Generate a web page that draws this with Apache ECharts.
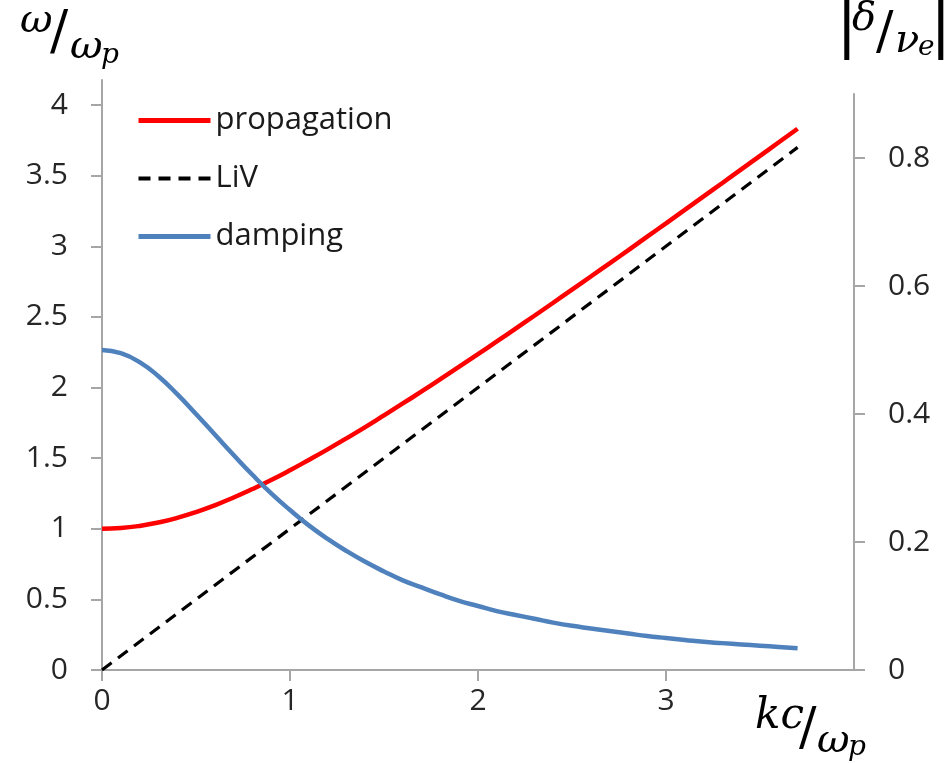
<!DOCTYPE html>
<html>
<head>
<meta charset="utf-8">
<script src="https://cdn.jsdelivr.net/npm/echarts@6/dist/echarts.min.js"></script>
<style>
  html, body { margin: 0; padding: 0; background: #fff; }
  #chart { width: 951px; height: 763px; }
</style>
</head>
<body>
<div id="chart"></div>
<script>
// kc/ωp values where the curves were read
const kValues = [0, 0.1, 0.2, 0.3, 0.4, 0.5, 0.6, 0.7, 0.8, 0.9, 1.0, 1.1, 1.2, 1.3, 1.4, 1.5, 1.6, 1.7, 1.8, 1.9,
  2.0, 2.1, 2.2, 2.3, 2.4, 2.5, 2.6, 2.7, 2.8, 2.9, 3.0, 3.1, 3.2, 3.3, 3.4, 3.5, 3.6, 3.7]
// ω/ωp (left axis)
const propagation = [1.00, 1.005, 1.02, 1.044, 1.077, 1.118, 1.166, 1.221, 1.281, 1.345, 1.414, 1.487, 1.562, 1.64,
  1.72, 1.803, 1.887, 1.972, 2.059, 2.147, 2.236, 2.326, 2.417, 2.508, 2.60, 2.693, 2.786, 2.879, 2.973, 3.068,
  3.162, 3.257, 3.353, 3.448, 3.544, 3.64, 3.736, 3.832]
const livK = [0, 3.7]
const livValues = [0, 3.7]
// |δ/νe| (right axis)
const damping = [0.50, 0.495, 0.481, 0.459, 0.431, 0.40, 0.368, 0.336, 0.305, 0.276, 0.25, 0.226, 0.205, 0.186,
  0.169, 0.154, 0.14, 0.129, 0.118, 0.108, 0.10, 0.092, 0.086, 0.08, 0.074, 0.069, 0.065, 0.061, 0.057, 0.053,
  0.05, 0.047, 0.044, 0.042, 0.04, 0.038, 0.036, 0.034]

const zip = (xs, ys) => xs.map((x, i) => [x, ys[i]])

const axisGray = '#a6a6a6'
const labelColor = '#262626'
const labelFont = 'Open Sans'
const mathFont = 'DejaVu Serif'

const chart = echarts.init(document.getElementById('chart'))

const mathText = (text, left, top, size, italic) => ({
  type: 'text',
  left: left,
  top: top,
  style: {
    text: text,
    fontFamily: mathFont,
    fontSize: size,
    fontStyle: italic ? 'italic' : 'normal',
    fill: '#000'
  }
})

const tickStyle = { show: true, length: 11, lineStyle: { color: axisGray, width: 2 } }
const lineOnly = { show: true, onZero: false, lineStyle: { color: axisGray, width: 2 } }
const hiddenX = idx => ({ type: 'value', gridIndex: idx, min: 0, max: 4, show: false })
const plotGrid = top => ({ left: 102, right: 97, top: top, bottom: 93, outerBoundsMode: 'none' })

const option = {
  animation: false,
  backgroundColor: '#fff',
  grid: [
    plotGrid(105), // left axis 0..4
    plotGrid(80),  // left axis line above 4
    plotGrid(158), // right axis 0..0.8
    plotGrid(94)   // right axis line above 0.8
  ],
  legend: {
    orient: 'vertical',
    left: 131,
    top: 100,
    itemWidth: 72,
    itemHeight: 4,
    itemGap: 27,
    itemStyle: { opacity: 0 },
    textStyle: { fontFamily: labelFont, fontSize: 31, color: '#1a1a1a' },
    data: [
      { name: 'propagation', lineStyle: { width: 5 } },
      { name: 'LiV', lineStyle: { width: 4 } },
      { name: 'damping', lineStyle: { width: 5 } }
    ]
  },
  xAxis: [
    {
      type: 'value',
      gridIndex: 0,
      min: 0,
      max: 4,
      interval: 1,
      splitLine: { show: false },
      axisLine: lineOnly,
      axisTick: tickStyle,
      axisLabel: { showMaxLabel: false, margin: 16, fontFamily: labelFont, fontSize: 30, color: labelColor }
    },
    hiddenX(1), hiddenX(2), hiddenX(3)
  ],
  yAxis: [
    {
      type: 'value',
      gridIndex: 0,
      position: 'left',
      min: 0,
      max: 4,
      interval: 0.5,
      splitLine: { show: false },
      axisLine: lineOnly,
      axisTick: tickStyle,
      axisLabel: { margin: 34, fontFamily: labelFont, fontSize: 30, color: labelColor }
    },
    {
      type: 'value',
      gridIndex: 1,
      position: 'left',
      min: 0,
      max: 1,
      splitLine: { show: false },
      axisLine: lineOnly,
      axisTick: { show: false },
      axisLabel: { show: false }
    },
    {
      type: 'value',
      gridIndex: 2,
      position: 'right',
      min: 0,
      max: 0.8,
      interval: 0.2,
      splitLine: { show: false },
      axisLine: lineOnly,
      axisTick: tickStyle,
      axisLabel: {
        margin: 34, fontFamily: labelFont, fontSize: 30, color: labelColor,
        formatter: v => (v === 0 ? '0' : v.toFixed(1))
      }
    },
    {
      type: 'value',
      gridIndex: 3,
      position: 'right',
      min: 0,
      max: 1,
      splitLine: { show: false },
      axisLine: lineOnly,
      axisTick: { show: false },
      axisLabel: { show: false }
    }
  ],
  series: [
    {
      name: 'propagation',
      type: 'line',
      xAxisIndex: 0,
      yAxisIndex: 0,
      symbol: 'none',
      smooth: true,
      color: '#ff0000',
      lineStyle: { width: 4.5, color: '#ff0000' },
      data: zip(kValues, propagation)
    },
    {
      name: 'LiV',
      type: 'line',
      xAxisIndex: 0,
      yAxisIndex: 0,
      symbol: 'none',
      color: '#000',
      lineStyle: { width: 3.2, color: '#000', type: [12, 8] },
      data: zip(livK, livValues)
    },
    {
      name: 'damping',
      type: 'line',
      xAxisIndex: 2,
      yAxisIndex: 2,
      symbol: 'none',
      smooth: true,
      color: '#4f81bd',
      lineStyle: { width: 4.5, color: '#4f81bd' },
      data: zip(kValues, damping)
    }
  ],
  graphic: [
    // left axis title: ω/ωp
    mathText('ω', 20, 2, 40, true),
    mathText('/', 50, 8, 54, false),
    mathText('ω', 70, 28, 40, true),
    mathText('p', 101, 42, 28, true),
    // right axis title: |δ/νe|
    mathText('|', 836, -4, 64, false),
    mathText('δ', 852, 0, 40, true),
    mathText('/', 876, 8, 52, false),
    mathText('ν', 895, 22, 40, true),
    mathText('e', 918, 34, 28, true),
    mathText('|', 930, -4, 64, false),
    // x axis title: kc/ωp
    mathText('kc', 755, 696, 42, true),
    mathText('/', 799, 704, 52, false),
    mathText('ω', 817, 722, 40, true),
    mathText('p', 848, 734, 28, true)
  ]
}

chart.setOption(option)
</script>
</body>
</html>
